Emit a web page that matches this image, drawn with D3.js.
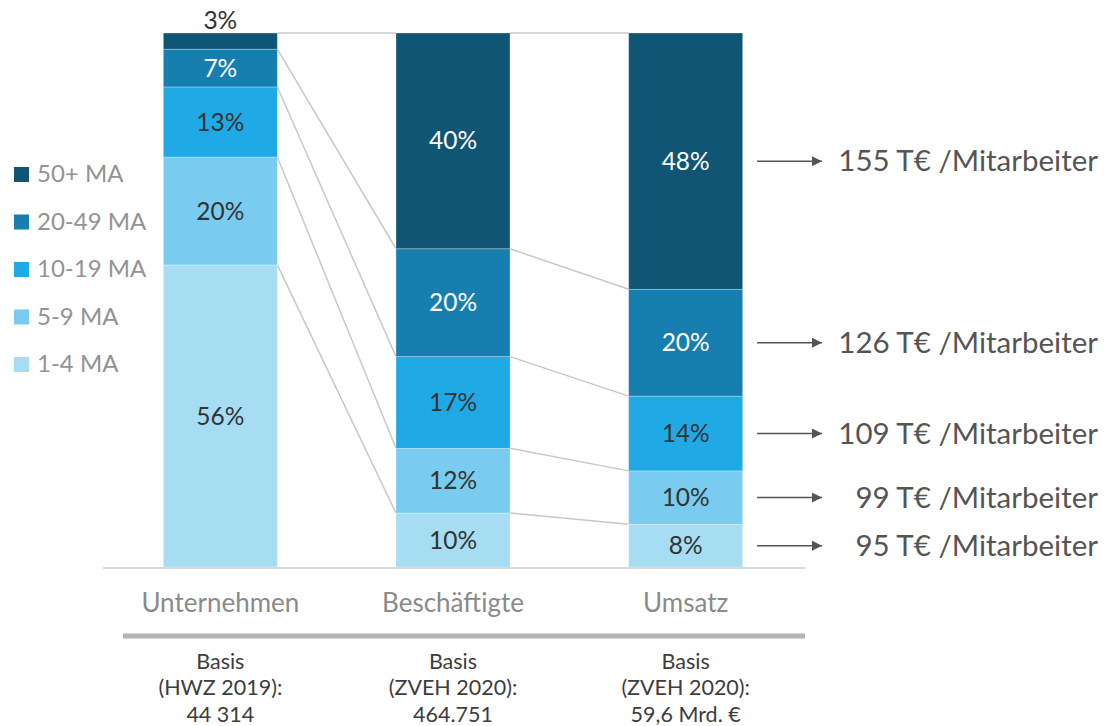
<!DOCTYPE html>
<html>
<head>
<meta charset="utf-8">
<script src="https://cdn.jsdelivr.net/npm/d3@7"></script>
<style>
  body { margin: 0; background: #fff; }
  svg { font-family: Lato, "Open Sans", sans-serif; }
</style>
</head>
<body>
<div id="chart"></div>
<script>
// data
var categories = ["Unternehmen", "Beschäftigte", "Umsatz"];
var groups = ["1-4 MA", "5-9 MA", "10-19 MA", "20-49 MA", "50+ MA"];
var unternehmen = [56, 20, 13, 7, 3];
var beschaeftigte = [10, 12, 17, 20, 40];
var umsatz = [8, 10, 14, 20, 48];
var perEmployee = ["95 T€ /Mitarbeiter", "99 T€ /Mitarbeiter", "109 T€ /Mitarbeiter", "126 T€ /Mitarbeiter", "155 T€ /Mitarbeiter"];
var basis = [
  ["Basis", "(HWZ 2019):", "44 314"],
  ["Basis", "(ZVEH 2020):", "464.751"],
  ["Basis", "(ZVEH 2020):", "59,6 Mrd. €"]
];
var colors = ["#a7ddf3", "#79ccef", "#1fa9e5", "#177fb0", "#105674"];

var series = [unternehmen, beschaeftigte, umsatz];

var width = 1104, height = 726;
var barTop = 33, barBottom = 567;

const svg = d3.select("#chart").append("svg")
    .attr("width", width)
    .attr("height", height);

const x = d3.scaleBand()
    .domain(categories)
    .range([104, 802])
    .paddingInner(0.51)
    .paddingOuter(0.255);

const color = d3.scaleOrdinal().domain(groups).range(colors);

// stacked segments per bar
var bars = categories.map(function(cat, i) {
  var vals = series[i];
  var total = d3.sum(vals);
  var y = d3.scaleLinear().domain([0, total]).range([barBottom, barTop]);
  var acc = 0;
  var segs = vals.map(function(v, j) {
    var s = {cat: cat, group: groups[j], value: v, y0: y(acc), y1: y(acc + v)};
    acc += v;
    return s;
  });
  return {cat: cat, segs: segs};
});

// connector lines
const conn = svg.append("g");
for (let i = 0; i < bars.length - 1; i++) {
  let a = bars[i], b = bars[i + 1];
  let xa = x(a.cat) + x.bandwidth(), xb = x(b.cat);
  // top line + tops of each segment below the top one
  let pts = [[barTop, barTop]];
  for (let j = groups.length - 1; j > 0; j--) {
    pts.push([a.segs[j].y0, b.segs[j].y0]);
  }
  conn.append("g").selectAll("line")
    .data(pts)
    .join("line")
      .attr("x1", xa).attr("x2", xb)
      .attr("y1", d => d[0]).attr("y2", d => d[1])
      .attr("stroke", "#c8c8c8")
      .attr("stroke-width", 1.5);
}

// bars
const barG = svg.append("g")
  .selectAll("g")
  .data(bars)
  .join("g");

barG.selectAll("rect")
  .data(d => d.segs)
  .join("rect")
    .attr("x", d => x(d.cat))
    .attr("width", x.bandwidth())
    .attr("y", d => d.y1)
    .attr("height", d => d.y0 - d.y1)
    .attr("fill", d => color(d.group))
    .attr("stroke", "#ffffff")
    .attr("stroke-opacity", 0.35)
    .attr("stroke-width", 0.8);

barG.selectAll("text")
  .data(d => d.segs)
  .join("text")
    .attr("x", d => x(d.cat) + x.bandwidth() / 2)
    .attr("y", function(d) {
      // too small -> label above bar
      if (d.y0 - d.y1 < 20) return d.y1 - 13;
      return (d.y0 + d.y1) / 2;
    })
    .attr("dy", "0.35em")
    .attr("text-anchor", "middle")
    .attr("font-size", 24.5)
    .attr("fill", function(d) {
      if (d.y0 - d.y1 < 20) return "#333";
      return (d.group == "50+ MA" || d.group == "20-49 MA") ? "#ffffff" : "#333";
    })
    .text(d => d.value + "%");

// baseline
svg.append("line")
  .attr("x1", 103).attr("x2", 805)
  .attr("y1", barBottom + 1).attr("y2", barBottom + 1)
  .attr("stroke", "#d9d9d9").attr("stroke-width", 2);

// category labels
svg.append("g").selectAll("text")
  .data(categories)
  .join("text")
    .attr("x", d => x(d) + x.bandwidth() / 2)
    .attr("y", 603)
    .attr("dy", "0.35em")
    .attr("text-anchor", "middle")
    .attr("font-size", 26)
    .attr("fill", "#8a8a8a")
    .text(d => d);

svg.append("line")
  .attr("x1", 123).attr("x2", 805)
  .attr("y1", 636).attr("y2", 636)
  .attr("stroke", "#b4b4b4").attr("stroke-width", 5);

// basis text
svg.append("g").selectAll("text")
  .data(categories)
  .join("text")
    .attr("text-anchor", "middle")
    .attr("font-size", 21.5)
    .attr("fill", "#3d3d3d")
    .each(function(d, i) {
      var t = d3.select(this);
      basis[i].forEach(function(line, k) {
        t.append("tspan")
          .attr("x", x(d) + x.bandwidth() / 2)
          .attr("y", 661 + k * 26.5)
          .attr("dy", "0.35em")
          .text(line);
      });
    });

// legend
var legend = svg.append("g").selectAll("g")
  .data(groups.slice().reverse())
  .join("g")
    .attr("transform", (d, i) => "translate(14," + (174 + i * 47.5) + ")");

legend.append("rect")
  .attr("x", 0).attr("y", -7)
  .attr("width", 15).attr("height", 15)
  .attr("fill", d => color(d));

legend.append("text")
  .attr("x", 23)
  .attr("dy", "0.35em")
  .attr("font-size", 24)
  .attr("fill", "#939393")
  .text(d => d);

// arrows + per employee annotations
svg.append("defs").append("marker")
  .attr("id", "arr")
  .attr("viewBox", "0 0 10 10")
  .attr("refX", 10).attr("refY", 5)
  .attr("markerWidth", 12).attr("markerHeight", 10)
  .attr("markerUnits", "userSpaceOnUse")
  .attr("orient", "auto")
  .append("path")
    .attr("d", "M0,0 L10,5 L0,10 Z")
    .attr("fill", "#555");

var last = bars[bars.length - 1];
var ann = svg.append("g").selectAll("g")
  .data(last.segs)
  .join("g")
    .attr("transform", d => "translate(0," + (d.y0 + d.y1) / 2 + ")");

ann.append("line")
  .attr("x1", 757).attr("x2", 822)
  .attr("y1", 0).attr("y2", 0)
  .attr("stroke", "#555").attr("stroke-width", 1.5)
  .attr("marker-end", "url(#arr)");

ann.append("text")
  .attr("x", 1098)
  .attr("dy", "0.35em")
  .attr("text-anchor", "end")
  .attr("font-size", 29.5)
  .attr("fill", "#555")
  .text((d, i) => perEmployee[i]);
</script>
</body>
</html>
